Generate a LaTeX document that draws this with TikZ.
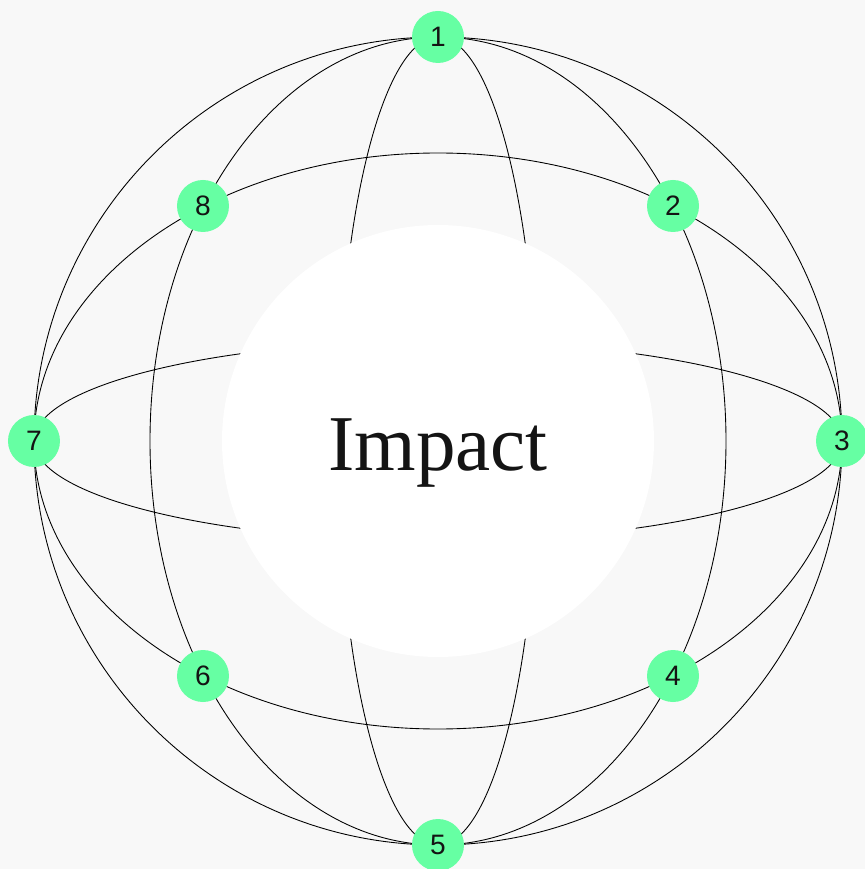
\documentclass[tikz,border=0pt]{standalone}
\usepackage{fontspec}
\newfontfamily\numfont{Liberation Sans}
\newfontfamily\titlefont{Liberation Serif}
\definecolor{bgray}{HTML}{F8F8F8}
\definecolor{mint}{HTML}{66FFA3}
\definecolor{ink}{HTML}{141414}
\tikzset{
  dot/.style={circle,fill=mint,minimum size=1.04cm,inner sep=0pt,text=ink,font=\numfont\fontsize{16}{16}\selectfont},
  wire/.style={black,line width=0.5pt}
}
\begin{document}
\begin{tikzpicture}
\fill[bgray] (-8.76,-8.56) rectangle (8.54,8.82);
\useasboundingbox (-8.76,-8.56) rectangle (8.54,8.82);
\coordinate (c) at (0,0);
% sphere lines
\draw[wire] (c) circle (8.08);
\draw[wire] (c) ellipse (5.76 and 8.08);
\draw[wire] (c) ellipse (8.08 and 5.76);
\draw[wire] (c) ellipse (2.0 and 8.08);
\draw[wire] (c) ellipse (8.08 and 2.0);
% centre
\fill[white] (c) circle (4.32);
\node[text=ink,anchor=base,font=\titlefont\fontsize{45}{54}\selectfont] (title) at (0,-0.58) {Impact};
% points
\node[dot] (n1) at (0,8.08) {1};
\node[dot] (n2) at (4.70,4.70) {2};
\node[dot] (n3) at (8.08,0) {3};
\node[dot] (n4) at (4.70,-4.70) {4};
\node[dot] (n5) at (0,-8.08) {5};
\node[dot] (n6) at (-4.70,-4.70) {6};
\node[dot] (n7) at (-8.08,0) {7};
\node[dot] (n8) at (-4.70,4.70) {8};
\end{tikzpicture}
\end{document}
